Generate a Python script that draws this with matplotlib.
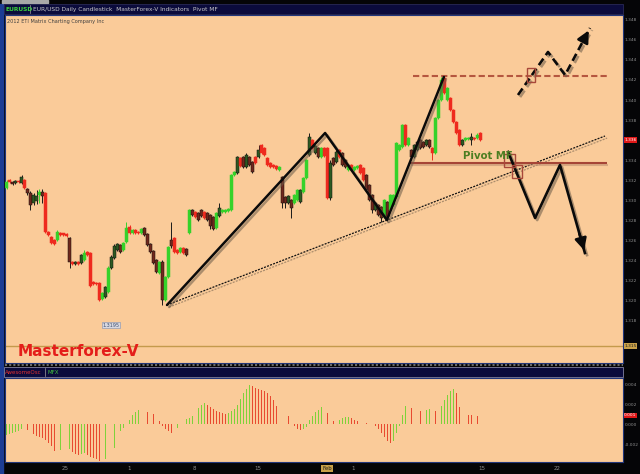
import numpy as np
import matplotlib
matplotlib.use("Agg")
import matplotlib.pyplot as plt
from matplotlib.patches import Rectangle
from matplotlib.lines import Line2D
import matplotlib.patheffects as pe
import matplotlib.transforms as mtransforms

# ---------------- data ----------------
opens = [1.3312,1.3320,1.3318,1.3317,1.3319,1.3317,1.3320,1.3311,1.3307,1.3297,
         1.3299,1.3305,1.3308,1.3307,1.3268,1.3263,1.3260,1.3260,1.3267,1.3267,
         1.3266,1.3262,1.3238,1.3236,1.3238,1.3237,1.3240,1.3248,1.3247,1.3218,
         1.3217,1.3217,1.3201,1.3203,1.3208,1.3232,1.3242,1.3250,1.3255,1.3250,
         1.3258,1.3273,1.3267,1.3270,1.3268,1.3267,1.3272,1.3266,1.3256,1.3249,
         1.3240,1.3227,1.3238,1.3200,1.3223,1.3260,1.3262,1.3250,1.3248,1.3252,
         1.3251,1.3267,1.3290,1.3288,1.3287,1.3290,1.3288,1.3287,1.3285,1.3283,
         1.3272,1.3284,1.3288,1.3288,1.3289,1.3290,1.3325,1.3327,1.3342,1.3343,
         1.3333,1.3343,1.3338,1.3343,1.3343,1.3355,1.3352,1.3342,1.3337,1.3335,
         1.3334,1.3330,1.3323,1.3303,1.3297,1.3300,1.3297,1.3300,1.3298,1.3308,
         1.3322,1.3345,1.3360,1.3347,1.3352,1.3343,1.3352,1.3352,1.3302,1.3342,
         1.3338,1.3350,1.3347,1.3340,1.3330,1.3335,1.3330,1.3332,1.3335,1.3332,
         1.3325,1.3315,1.3305,1.3290,1.3295,1.3293,1.3283,1.3298,1.3290,1.3295,
         1.3303,1.3350,1.3353,1.3375,1.3355,1.3350,1.3343,1.3350,1.3360,1.3358,
         1.3355,1.3360,1.3352,1.3347,1.3382,1.3400,1.3422,1.3400,1.3402,1.3390,
         1.3378,1.3370,1.3355,1.3360,1.3361,1.3360,1.3362,1.3362,1.3367]
closes = [1.3318,1.3318,1.3316,1.3319,1.3318,1.3323,1.3312,1.3307,1.3295,1.3305,
          1.3304,1.3308,1.3304,1.3268,1.3265,1.3257,1.3256,1.3268,1.3265,1.3265,
          1.3264,1.3238,1.3236,1.3238,1.3236,1.3245,1.3247,1.3245,1.3214,1.3216,
          1.3216,1.3200,1.3207,1.3213,1.3232,1.3243,1.3254,1.3256,1.3248,1.3257,
          1.3272,1.3267,1.3270,1.3267,1.3267,1.3271,1.3265,1.3255,1.3248,1.3237,
          1.3228,1.3238,1.3200,1.3223,1.3253,1.3254,1.3248,1.3247,1.3252,1.3247,
          1.3245,1.3290,1.3285,1.3283,1.3280,1.3284,1.3282,1.3280,1.3274,1.3271,
          1.3287,1.3292,1.3290,1.3290,1.3291,1.3325,1.3328,1.3343,1.3334,1.3333,
          1.3345,1.3335,1.3328,1.3337,1.3350,1.3347,1.3345,1.3335,1.3333,1.3333,
          1.3331,1.3333,1.3297,1.3297,1.3304,1.3292,1.3305,1.3310,1.3310,1.3322,
          1.3340,1.3363,1.3352,1.3354,1.3343,1.3352,1.3344,1.3302,1.3337,1.3335,
          1.3348,1.3343,1.3335,1.3333,1.3335,1.3330,1.3333,1.3334,1.3327,1.3320,
          1.3310,1.3300,1.3290,1.3297,1.3285,1.3282,1.3300,1.3283,1.3305,1.3305,
          1.3357,1.3355,1.3375,1.3355,1.3362,1.3343,1.3355,1.3358,1.3352,1.3353,
          1.3360,1.3353,1.3347,1.3382,1.3400,1.3420,1.3407,1.3412,1.3390,1.3378,
          1.3367,1.3355,1.3360,1.3362,1.3362,1.3363,1.3361,1.3365,1.3360]
highs = [1.3320,1.3321,1.3319,1.3320,1.3320,1.3325,1.3321,1.3312,1.3309,1.3307,
         1.3310,1.3311,1.3311,1.3308,1.3269,1.3264,1.3261,1.3270,1.3268,1.3267,
         1.3267,1.3263,1.3239,1.3239,1.3239,1.3246,1.3250,1.3249,1.3248,1.3219,
         1.3218,1.3218,1.3208,1.3214,1.3234,1.3245,1.3256,1.3257,1.3256,1.3258,
         1.3278,1.3275,1.3271,1.3271,1.3269,1.3272,1.3273,1.3267,1.3257,1.3250,
         1.3241,1.3239,1.3240,1.3224,1.3254,1.3278,1.3263,1.3251,1.3253,1.3253,
         1.3252,1.3291,1.3291,1.3289,1.3288,1.3291,1.3289,1.3288,1.3286,1.3284,
         1.3288,1.3297,1.3291,1.3291,1.3292,1.3326,1.3329,1.3344,1.3343,1.3344,
         1.3347,1.3344,1.3339,1.3344,1.3355,1.3356,1.3353,1.3343,1.3338,1.3336,
         1.3335,1.3334,1.3324,1.3304,1.3305,1.3301,1.3306,1.3311,1.3311,1.3323,
         1.3341,1.3367,1.3361,1.3355,1.3353,1.3353,1.3353,1.3353,1.3340,1.3343,
         1.3350,1.3351,1.3348,1.3341,1.3336,1.3336,1.3334,1.3335,1.3336,1.3333,
         1.3326,1.3316,1.3306,1.3298,1.3296,1.3294,1.3301,1.3299,1.3306,1.3306,
         1.3358,1.3356,1.3376,1.3376,1.3363,1.3351,1.3356,1.3359,1.3361,1.3359,
         1.3361,1.3361,1.3353,1.3383,1.3401,1.3423,1.3423,1.3413,1.3403,1.3391,
         1.3379,1.3371,1.3361,1.3363,1.3363,1.3367,1.3363,1.3367,1.3368]
lows = [1.3311,1.3317,1.3315,1.3316,1.3317,1.3316,1.3311,1.3305,1.3290,1.3295,
        1.3296,1.3297,1.3297,1.3267,1.3264,1.3256,1.3255,1.3259,1.3264,1.3264,
        1.3263,1.3232,1.3235,1.3235,1.3235,1.3236,1.3239,1.3244,1.3213,1.3215,
        1.3215,1.3199,1.3200,1.3202,1.3207,1.3231,1.3241,1.3249,1.3247,1.3249,
        1.3257,1.3266,1.3266,1.3266,1.3266,1.3266,1.3264,1.3254,1.3247,1.3236,
        1.3227,1.3226,1.3195,1.3199,1.3222,1.3252,1.3247,1.3246,1.3247,1.3246,
        1.3244,1.3266,1.3284,1.3282,1.3279,1.3283,1.3281,1.3279,1.3271,1.3270,
        1.3271,1.3283,1.3287,1.3287,1.3288,1.3289,1.3324,1.3326,1.3333,1.3332,
        1.3332,1.3334,1.3327,1.3336,1.3342,1.3346,1.3344,1.3334,1.3332,1.3332,
        1.3330,1.3329,1.3292,1.3292,1.3296,1.3282,1.3296,1.3299,1.3297,1.3307,
        1.3321,1.3344,1.3351,1.3346,1.3342,1.3342,1.3343,1.3301,1.3300,1.3334,
        1.3337,1.3342,1.3334,1.3332,1.3329,1.3329,1.3329,1.3331,1.3326,1.3319,
        1.3309,1.3299,1.3287,1.3289,1.3284,1.3278,1.3282,1.3279,1.3289,1.3294,
        1.3302,1.3349,1.3352,1.3354,1.3354,1.3342,1.3342,1.3349,1.3351,1.3352,
        1.3354,1.3352,1.3340,1.3346,1.3381,1.3399,1.3406,1.3399,1.3389,1.3377,
        1.3366,1.3354,1.3354,1.3359,1.3360,1.3355,1.3360,1.3361,1.3359]
# candle state: G bright up, R bright down, g dark up, r dark down
states = list("".join("""GRrgRgRrrg gGrRRRRGRR RrRgRgGRRR RRGgGgggrG GRGRRGrrrr
rGrGGrRRGR rGrRrrRrrr GgGGGGGgRr grrRgRRRRR RGrrgrGGgG GgRgrGRRgr gRrrGRGGRR
rrrgrrGrGG GGGRGrggrr grRGGGRGRR RRgGGgRGR""".split()))

nan = np.nan
# oscillator histogram (pips)
osc_pips = [-11,-9.5,-9,-8,-7,-5,nan,-6,nan,-10,
            -12,-13,-14,-16,-19,-22,-27,nan,-26,nan,
            nan,-25,-28,-30,-31,-30,-29,-31,-33,-34,
            -35,-37,nan,-35,nan,nan,-24,nan,-7,-4,
            nan,4,9,12,14,nan,nan,12,nan,10,
            nan,3,-2,-5,-7,-9,nan,-4,nan,nan,
            5,6,8,nan,16,19,21,19,17,15,
            13,12,11,10,11,13,15,19,25,31,
            35,39,38,36,35,34,33,31,28,24,
            18,nan,nan,nan,8,nan,-2,-5,-6,-5,
            -3,4,8,12,14,17,nan,11,nan,3,
            nan,4,6,7,7.5,6,4,3,nan,nan,
            1,nan,nan,-2,-5,-9,-13,-17,-19,-17,
            -9,-2,9,18,nan,16,nan,nan,13,nan,
            14,15,nan,13,nan,18,24,29,33,35,
            31,17,nan,nan,9.5,9,nan,8.5,nan]

# pattern drawings (bar index, price)
zigzag_x = [53.5, 106.2, 126.8, 145.8]
zigzag_y = [1.3195, 1.3367, 1.3280, 1.3423]
trend_x = [53.5, 199.5]
trend_y = [1.3195, 1.3364]
pivot_level, pivot_x = 1.3337, [134.5, 200.2]
top_level, top_x = 1.3424, [135.5, 200.5]
proj_up_x = [170.5, 180.5, 186.2, 194.5]
proj_up_y = [1.3405, 1.3448, 1.3425, 1.3472]
proj_dn_x = [167.2, 176.2, 184.5, 192.8]
proj_dn_y = [1.3348, 1.3282, 1.3335, 1.3247]
boxes = [(173.5, 1.3418, 2.7, 0.0014), (165.8, 1.3333, 3.7, 0.0013),
         (168.5, 1.3322, 3.3, 0.0013)]
base_level = 1.3154
low_label = "1.3195"

price_ticks = [1.348, 1.346, 1.344, 1.342, 1.340, 1.338, 1.336, 1.334,
               1.332, 1.330, 1.328, 1.326, 1.324, 1.322, 1.320, 1.318]
osc_ticks = [0.004, 0.002, 0.0, -0.002]
date_ticks = [19.5, 40.8, 62.5, 83.8, 115.5, 158.5, 183.5]
date_labels = ["25", "1", "8", "15", "1", "15", "22"]
cursor_date_pos, cursor_date = 106.8, "Feb"

# ---------------- style ----------------
W, H = 640, 474
PEACH = "#FACB99"
NAVY = "#0B0B3C"
col = {"G": "#35D22A", "R": "#EE2A1E", "g": "#2D5A22", "r": "#70281C"}
HG, HR = "#7ED23A", "#E84A30"


def fbox(x0, y0, x1, y1):
    return [x0 / W, 1 - y1 / H, (x1 - x0) / W, (y1 - y0) / H]


fig = plt.figure(figsize=(6.4, 4.74), dpi=100, facecolor="#050507")

# frame decorations
fig.patches.append(Rectangle((0, 0), 3 / W, 470 / H, transform=fig.transFigure,
                             color="#1C3C94", zorder=0))
fig.patches.append(Rectangle((2 / W, 1 - 3 / H), 46 / W, 3 / H,
                             transform=fig.transFigure, color="#A8A8A8"))
fig.patches.append(Rectangle((4 / W, 1 - 14 / H), 619 / W, 10 / H,
                             transform=fig.transFigure, color=NAVY,
                             ec="#303060", lw=0.5))
fig.patches.append(Rectangle((4 / W, 1 - 377 / H), 619 / W, 10 / H,
                             transform=fig.transFigure, color=NAVY,
                             ec="#8080a0", lw=0.6))
fig.lines.append(Line2D([5 / W, 623 / W], [1 - 365 / H, 1 - 365 / H],
                        transform=fig.transFigure, color="#6a6a6a", lw=1.5,
                        dashes=(1, 1)))
fig.lines.append(Line2D([30 / W, 30 / W], [1 - 13 / H, 1 - 5 / H],
                        transform=fig.transFigure, color="#a0a0a0", lw=0.5))
fig.lines.append(Line2D([45 / W, 45 / W], [1 - 376 / H, 1 - 368 / H],
                        transform=fig.transFigure, color="#a0a0a0", lw=0.5))
fig.text(5 / W, 1 - 9.5 / H, "EURUSD", color="#3CD23C", fontsize=4.3,
         weight="bold", va="center")
fig.text(33 / W, 1 - 9.5 / H,
         "EUR/USD Daily Candlestick  MasterForex-V Indicators  Pivot MF",
         color="#C8C8C8", fontsize=4.2, va="center")
fig.text(5 / W, 1 - 372 / H, "AwesomeOsc", color="#E03030", fontsize=4,
         va="center")
fig.text(47 / W, 1 - 372 / H, "MFX", color="#40C040", fontsize=4,
         va="center")

# ---------------- main price panel ----------------
ax = fig.add_axes(fbox(5, 15, 623, 363))
ax.set_facecolor(PEACH)
ax.set_xlim(-0.5, 205.5)
ax.set_ylim(1.3137, 1.3485)
for s in ax.spines.values():
    s.set_color("#22367A")
    s.set_linewidth(0.8)

x = np.arange(len(opens))
o = np.array(opens); c = np.array(closes)
h = np.array(highs); l = np.array(lows)
fc = [col[s] for s in states]
wick = [col[s] if s in "GR" else "#1a1a1a" for s in states]
ec = [col[s] if s in "GR" else "#101010" for s in states]
ax.vlines(x, l, h, colors=wick, lw=0.7, zorder=3)
ax.bar(x, c - o, bottom=o, width=0.72, color=fc, edgecolor=ec, lw=0.35,
       zorder=4)

shadow = [pe.SimpleLineShadow(offset=(1.5, -1.5), shadow_color="#6b5a48",
                              alpha=0.55), pe.Normal()]

ax.axhline(base_level, color="#C49A4C", lw=1.0, zorder=2)
ax.plot(trend_x, trend_y, color="#111111", lw=0.9, dashes=(1.6, 1.0),
        path_effects=shadow, zorder=5)
ax.plot(zigzag_x, zigzag_y, color="#0a0a0a", lw=1.8, path_effects=shadow,
        zorder=6, solid_capstyle="round")
ax.hlines(pivot_level, *pivot_x, color="#A64536", lw=1.5, zorder=5,
          path_effects=[pe.SimpleLineShadow(offset=(1, -1.5),
                                            shadow_color="#c09070",
                                            alpha=0.6), pe.Normal()])
ax.hlines(top_level, *top_x, color="#B5573F", lw=1.5, zorder=5,
          linestyles=(0, (3, 1.5)))
ax.plot(proj_up_x, proj_up_y, color="#0a0a0a", lw=1.9, dashes=(3, 1.6),
        path_effects=shadow, zorder=6)
ax.plot(proj_dn_x, proj_dn_y, color="#0a0a0a", lw=1.9, path_effects=shadow,
        zorder=6)
for px, py in ((proj_up_x, proj_up_y), (proj_dn_x, proj_dn_y)):
    tip = (px[-1], py[-1])
    back = (px[-1] - 0.25 * (px[-1] - px[-2]), py[-1] - 0.25 * (py[-1] - py[-2]))
    ax.annotate("", xy=tip, xytext=back,
                arrowprops=dict(arrowstyle="-|>,head_length=0.7,head_width=0.35",
                                color="#0a0a0a", lw=1.9), zorder=7)
for bx, by, bw, bh in boxes:
    ax.add_patch(Rectangle((bx, by), bw, bh, fill=False, ec="#A8483A",
                           lw=1.0, zorder=7))

ax.text(152.2, 1.3344, "Pivot MF", color="#4C7E22", fontsize=7.3,
        weight="bold", va="center", ha="left", zorder=8)
ax.text(34.8, 1.3175, low_label, fontsize=3.5, color="#405070", ha="center",
        va="center", bbox=dict(fc="#D8D8E0", ec="#8090b0", lw=0.4, pad=0.6))
fig.text(18 / W, 1 - 352 / H, "Masterforex-V", color="#E41E1A", fontsize=11,
         weight="bold", va="center")
fig.text(7 / W, 1 - 22 / H, "2012 ETI Matrix Charting Company Inc",
         color="#404040", fontsize=3.6, va="center")

ax.set_xticks([])
ax.yaxis.tick_right()
ax.set_yticks(price_ticks)
ax.set_yticklabels([f"{v:.3f}" for v in price_ticks])
ax.tick_params(axis="y", length=0, pad=1.2, labelsize=3.2, labelcolor="#8C8C8C")
tr = mtransforms.blended_transform_factory(ax.transAxes, ax.transData)
ax.text(1.002, closes[-1], f"{closes[-1]:.3f}", transform=tr, fontsize=3.2,
        color="white", va="center", ha="left",
        bbox=dict(fc="#E01818", ec="none", pad=0.5), clip_on=False)
ax.text(1.002, base_level, f"{base_level:.3f}", transform=tr, fontsize=3.2,
        color="#202020", va="center", ha="left",
        bbox=dict(fc="#C8A048", ec="none", pad=0.5), clip_on=False)

# ---------------- oscillator panel ----------------
ax2 = fig.add_axes(fbox(5, 378, 623, 462))
ax2.set_facecolor(PEACH)
ax2.set_xlim(-0.5, 205.5)
ax2.set_ylim(-0.0038, 0.0046)
for s in ax2.spines.values():
    s.set_color("#22367A")
    s.set_linewidth(0.8)
osc = np.array(osc_pips, dtype=float) / 10000.0
ocol = []
prev = None
for v in osc:
    if np.isnan(v):
        ocol.append(HG)
        continue
    ocol.append(HG if (prev is None or v > prev) else HR)
    prev = v
xo = np.arange(len(osc))
ok = ~np.isnan(osc)
ax2.bar(xo[ok], osc[ok], width=0.42, color=np.array(ocol)[ok], lw=0)
ax2.yaxis.tick_right()
ax2.set_yticks(osc_ticks)
ax2.set_yticklabels([f"{v:.3f}" for v in osc_ticks])
ax2.tick_params(axis="y", length=0, pad=1.2, labelsize=3.2, labelcolor="#8C8C8C")
ax2.set_xticks(date_ticks)
ax2.set_xticklabels(date_labels)
ax2.tick_params(axis="x", length=0, pad=3, labelsize=4, labelcolor="#8C8C8C")
last_osc = osc[ok][-1]
tr2 = mtransforms.blended_transform_factory(ax2.transAxes, ax2.transData)
ax2.text(1.002, last_osc, f"{last_osc:.3f}", transform=tr2, fontsize=3.2,
         color="white", va="center", ha="left",
         bbox=dict(fc="#E01818", ec="none", pad=0.5), clip_on=False)
trx = mtransforms.blended_transform_factory(ax2.transData, ax2.transAxes)
ax2.text(cursor_date_pos, -0.08, cursor_date, transform=trx, fontsize=4,
         color="#202020", va="center", ha="center",
         bbox=dict(fc="#C8A048", ec="none", pad=0.8), clip_on=False)

fig.savefig("out.png", dpi=100, facecolor=fig.get_facecolor())
